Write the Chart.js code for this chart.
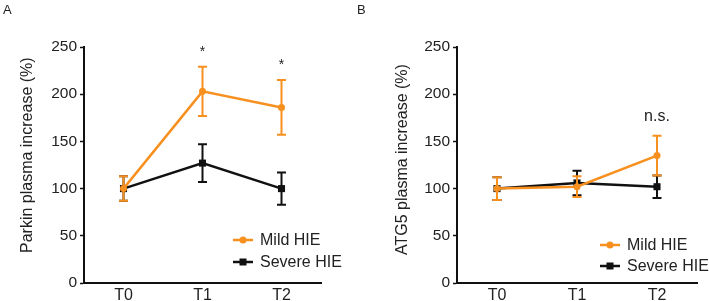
<!DOCTYPE html>
<html>
<head>
<meta charset="utf-8">
<script src="https://cdn.jsdelivr.net/npm/chart.js@4.4.0/dist/chart.umd.min.js"></script>
<style>
  body { margin: 0; background: #fff; }
  #wrap { position: relative; width: 709px; height: 301px; overflow: hidden; font-family: "Liberation Sans", Arial, sans-serif; }
  .panel { position: absolute; top: 0; }
  .tag { position: absolute; font-size: 13px; color: #222; line-height: 15px; }
</style>
</head>
<body>
<div id="wrap">
  <canvas id="chartA" class="panel" width="354" height="301" style="left:0"></canvas>
  <canvas id="chartB" class="panel" width="355" height="301" style="left:354px"></canvas>
  <div class="tag" style="left:3px;top:2px">A</div>
  <div class="tag" style="left:357px;top:2px">B</div>
</div>
<script>
// categories
const timepoints = ['T0', 'T1', 'T2'];
const seriesNames = ['Mild HIE', 'Severe HIE'];

// Panel A - Parkin (mean and error half-width, %)
const parkinMild = [100, 203, 186];
const parkinMildErr = [13, 26, 29];
const parkinSevere = [100, 127, 100];
const parkinSevereErr = [13, 20, 17];
const parkinSig = ['', '*', '*'];

// Panel B - ATG5
const atg5Mild = [100, 102, 135];
const atg5MildErr = [12, 11, 21];
const atg5Severe = [100, 106, 102];
const atg5SevereErr = [12, 13, 12];
const atg5Sig = ['', '', 'n.s.'];

// y axis ticks
const yTicks = [0, 50, 100, 150, 200, 250];

const ORANGE = '#f7901e';
const BLACK = '#111111';
const TEXT = '#222222';
const FONT = '"Liberation Sans", Arial, sans-serif';

// draws error bars right after each dataset so stacking order matches lines
const errorBars = {
  id: 'errorBars',
  afterDatasetDraw(chart, args) {
    const ds = chart.data.datasets[args.index];
    if (!ds.errors) return;
    const y = chart.scales.y;
    const ctx = chart.ctx;
    ctx.save();
    ctx.strokeStyle = ds.borderColor;
    ctx.lineWidth = 2;
    args.meta.data.forEach((pt, i) => {
      const v = ds.data[i], e = ds.errors[i];
      const top = y.getPixelForValue(v + e);
      const bot = y.getPixelForValue(v - e);
      ctx.beginPath();
      ctx.moveTo(pt.x, top); ctx.lineTo(pt.x, bot);
      ctx.moveTo(pt.x - 4.5, top); ctx.lineTo(pt.x + 4.5, top);
      ctx.moveTo(pt.x - 4.5, bot); ctx.lineTo(pt.x + 4.5, bot);
      ctx.stroke();
    });
    ctx.restore();
  }
};

// significance marks, y-title and legend
const extras = {
  id: 'extras',
  afterDraw(chart, args, opts) {
    const ctx = chart.ctx;
    const x = chart.scales.x, y = chart.scales.y;
    ctx.save();
    // significance labels above the mild error bar
    const ds = chart.data.datasets[0];
    ctx.fillStyle = TEXT;
    ctx.textAlign = 'center';
    ctx.textBaseline = 'middle';
    opts.sig.forEach((lbl, i) => {
      if (!lbl) return;
      const top = y.getPixelForValue(ds.data[i] + ds.errors[i]);
      const isStar = lbl === '*';
      ctx.font = (isStar ? '14px ' : '16px ') + FONT;
      ctx.fillText(lbl, x.getPixelForValue(i), top - (isStar ? 15 : 19));
    });

    // y axis title, bottom anchored
    ctx.save();
    ctx.translate(opts.titleX, opts.titleY);
    ctx.rotate(-Math.PI / 2);
    ctx.font = '16px ' + FONT;
    ctx.textAlign = 'left';
    ctx.textBaseline = 'middle';
    ctx.fillText(opts.title, 0, 0);
    ctx.restore();

    // legend
    const lg = opts.legend;
    chart.data.datasets.forEach((d, i) => {
      const ly = lg.y + i * lg.dy;
      ctx.strokeStyle = d.borderColor;
      ctx.fillStyle = d.borderColor;
      ctx.lineWidth = 2.5;
      ctx.beginPath();
      ctx.moveTo(lg.x, ly); ctx.lineTo(lg.x + 20, ly);
      ctx.stroke();
      if (d.pointStyle === 'rect') {
        ctx.fillRect(lg.x + 10 - 3.5, ly - 3.5, 7, 7);
      } else {
        ctx.beginPath();
        ctx.arc(lg.x + 10, ly, 3.5, 0, Math.PI * 2);
        ctx.fill();
      }
      ctx.fillStyle = TEXT;
      ctx.font = '16px ' + FONT;
      ctx.textAlign = 'left';
      ctx.textBaseline = 'middle';
      ctx.fillText(d.label, lg.x + 27, ly + 1);
    });
    ctx.restore();
  }
};

function makeChart(id, mild, mildErr, severe, severeErr, cfg) {
  return new Chart(document.getElementById(id), {
    type: 'line',
    data: {
      labels: timepoints,
      datasets: [{
        label: seriesNames[0],
        data: mild,
        errors: mildErr,
        borderColor: ORANGE,
        backgroundColor: ORANGE,
        borderWidth: 2.5,
        pointStyle: 'circle',
        pointRadius: 3.5,
        pointBorderWidth: 0,
        tension: 0
      }, {
        label: seriesNames[1],
        data: severe,
        errors: severeErr,
        borderColor: BLACK,
        backgroundColor: BLACK,
        borderWidth: 2.5,
        pointStyle: 'rect',
        pointRadius: 5,
        pointBorderWidth: 0,
        tension: 0
      }]
    },
    options: {
      responsive: false,
      animation: false,
      layout: { padding: { left: 0, top: 47, right: cfg.padRight, bottom: 0 } },
      plugins: {
        legend: { display: false },
        tooltip: { enabled: false },
        extras: cfg.extras
      },
      scales: {
        x: {
          type: 'category',
          offset: true,
          grid: { display: false, drawTicks: false, tickLength: 0 },
          border: { color: BLACK, width: 2 },
          ticks: { color: TEXT, padding: 3, font: { family: FONT, size: 16 } },
          afterFit(s) { s.height = 18; }
        },
        y: {
          min: yTicks[0],
          max: yTicks[yTicks.length - 1],
          border: { color: BLACK, width: 2 },
          grid: { drawOnChartArea: false, drawTicks: true, tickLength: 4, tickColor: BLACK, tickWidth: 1.5 },
          ticks: { stepSize: yTicks[1] - yTicks[0], color: TEXT, padding: 3, font: { family: FONT, size: 15.5 } },
          afterFit(s) { s.width = cfg.axisWidth; }
        }
      }
    },
    plugins: [errorBars, extras]
  });
}

makeChart('chartA', parkinMild, parkinMildErr, parkinSevere, parkinSevereErr, {
  padRight: 33,
  axisWidth: 84,
  extras: {
    sig: parkinSig,
    title: 'Parkin plasma increase (%)',
    titleX: 28, titleY: 253,
    legend: { x: 233, y: 240, dy: 22 }
  }
});

makeChart('chartB', atg5Mild, atg5MildErr, atg5Severe, atg5SevereErr, {
  padRight: 12,
  axisWidth: 103,
  extras: {
    sig: atg5Sig,
    title: 'ATG5 plasma increase (%)',
    titleX: 49, titleY: 255,
    legend: { x: 246, y: 245, dy: 21 }
  }
});
</script>
</body>
</html>
